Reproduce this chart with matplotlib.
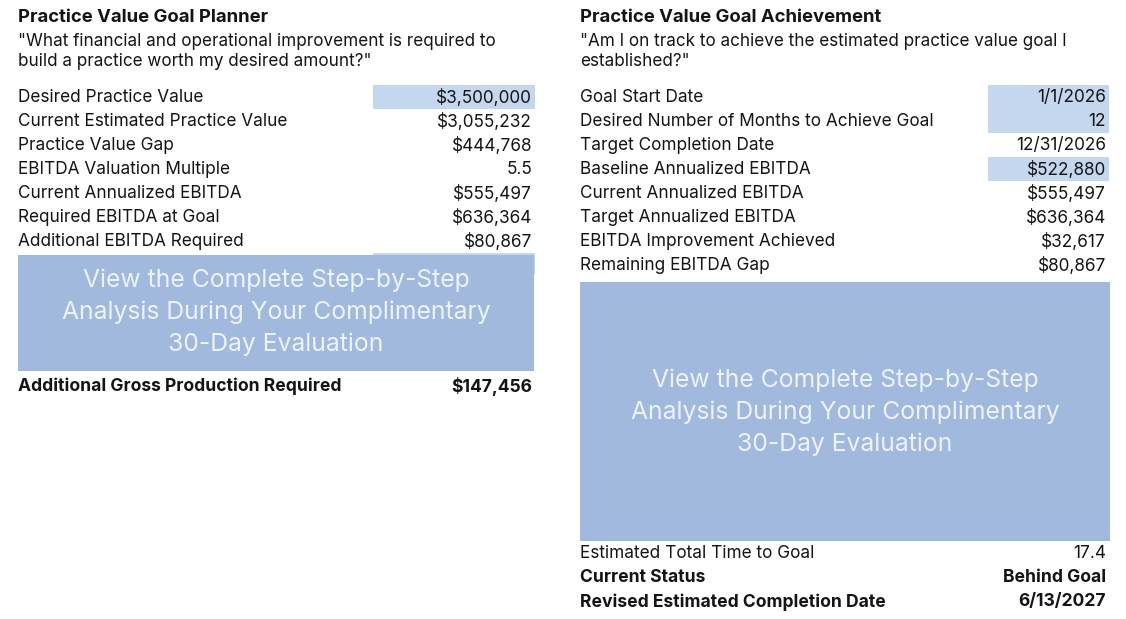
#!/usr/bin/env python3

import matplotlib
matplotlib.use('Agg')
from matplotlib import pyplot as plt
from matplotlib.patches import Rectangle

# left card: goal planner
planner_title = 'Practice Value Goal Planner'
planner_question = ['"What financial and operational improvement is required to',
                    'build a practice worth my desired amount?"']
planner_labels = ['Desired Practice Value', 'Current Estimated Practice Value',
                  'Practice Value Gap', 'EBITDA Valuation Multiple',
                  'Current Annualized EBITDA', 'Required EBITDA at Goal',
                  'Additional EBITDA Required']
planner_values = ['$3,500,000', '$3,055,232', '$444,768', '5.5',
                  '$555,497', '$636,364', '$80,867']
planner_inputs = [0]
planner_total_label = 'Additional Gross Production Required'
planner_total_value = '$147,456'

# right card: goal achievement
achieve_title = 'Practice Value Goal Achievement'
achieve_question = ['"Am I on track to achieve the estimated practice value goal I',
                    'established?"']
achieve_labels = ['Goal Start Date', 'Desired Number of Months to Achieve Goal',
                  'Target Completion Date', 'Baseline Annualized EBITDA',
                  'Current Annualized EBITDA', 'Target Annualized EBITDA',
                  'EBITDA Improvement Achieved', 'Remaining EBITDA Gap']
achieve_values = ['1/1/2026', '12', '12/31/2026', '$522,880',
                  '$555,497', '$636,364', '$32,617', '$80,867']
achieve_inputs = [0, 1, 3]
achieve_footer_labels = ['Estimated Total Time to Goal', 'Current Status',
                         'Revised Estimated Completion Date']
achieve_footer_values = ['17.4', 'Behind Goal', '6/13/2027']
achieve_footer_bold = [False, True, True]

overlay_text = ('View the Complete Step-by-Step\n'
                'Analysis During Your Complimentary\n'
                '30-Day Evaluation')

INPUT_BLUE = '#c5d6ef'
OVERLAY_BLUE = '#a0b9dd'
INK = '#141414'
ROW_H = 24
FS = 12.4

plt.rcParams['font.family'] = ['Inter', 'DejaVu Sans']

fig = plt.figure(figsize=(11.26, 6.19), dpi=100)
ax = fig.add_axes([0, 0, 1, 1])
ax.set_xlim(0, 1126)
ax.set_ylim(619, 0)
ax.axis('off')


def header(x, title, question):
    ax.text(x, 17.5, title, fontsize=13.3, fontweight='bold', color=INK, va='center')
    for i, line in enumerate(question):
        ax.text(x, 42 + 20 * i, line, fontsize=12.3, color=INK, va='center')


def rows(x0, x1, y0, labels, values, inputs, cell_x, bold=None):
    for i, (lab, val) in enumerate(zip(labels, values)):
        y = y0 + ROW_H * i
        if i in inputs:
            ax.add_patch(Rectangle((cell_x, y - 12), x1 + 3 - cell_x, ROW_H,
                                   color=INPUT_BLUE, lw=0, zorder=1))
        w = 'bold' if bold and bold[i] else 'normal'
        fs = 12.6 if w == 'bold' else FS
        ax.text(x0, y + 1, lab, fontsize=fs, color=INK, va='center', fontweight=w, zorder=3)
        ax.text(x1, y + 1, val, fontsize=fs, color=INK, va='center', ha='right',
                fontweight=w, zorder=3)


def overlay(x0, x1, y0, y1, ytext):
    ax.add_patch(Rectangle((x0, y0), x1 - x0, y1 - y0, color=OVERLAY_BLUE,
                           lw=0, zorder=4))
    ax.text((x0 + x1) / 2, ytext, overlay_text, fontsize=17.8, color='#eef2f9',
            ha='center', va='center', linespacing=1.46, zorder=5)


# left card
header(18, planner_title, planner_question)
rows(18, 532, 97, planner_labels, planner_values, planner_inputs, 373)
ax.add_patch(Rectangle((373, 253), 162, 22, color=INPUT_BLUE, lw=0, zorder=1))
overlay(18, 534, 255, 371, 312)
rows(18, 532, 385, [planner_total_label], [planner_total_value], [], 373, bold=[True])

# right card
header(580, achieve_title, achieve_question)
rows(580, 1106, 97, achieve_labels, achieve_values, achieve_inputs, 988)
overlay(580, 1110, 282, 541, 412)
rows(580, 1106, 553, achieve_footer_labels, achieve_footer_values, [], 988,
     bold=achieve_footer_bold)

fig.savefig('out.png', dpi=100, facecolor='white')
